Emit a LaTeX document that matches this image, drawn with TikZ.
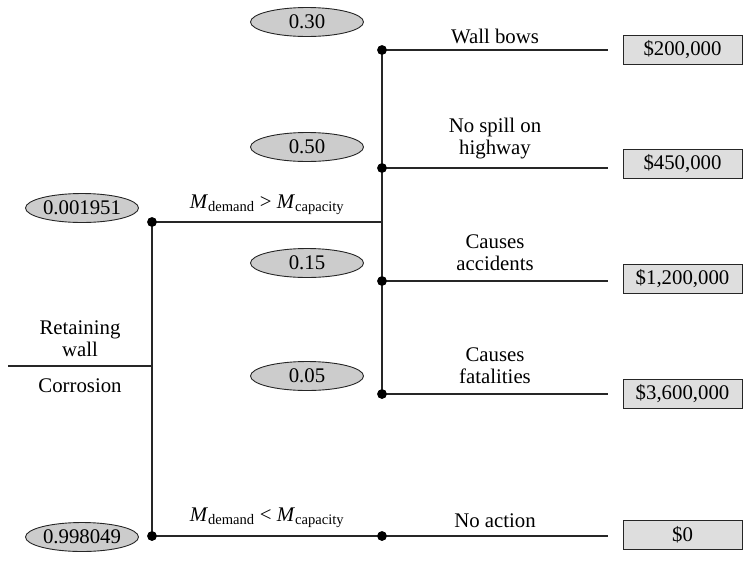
\documentclass[tikz,border=0pt]{standalone}
\usepackage{fontspec}
\setmainfont{Liberation Serif}
\usetikzlibrary{shapes.geometric}
\begin{document}
\begin{tikzpicture}[x=1pt,y=-1pt,
  font=\fontsize{20.8}{22}\selectfont,
  ln/.style={line width=1.1pt, draw=black!85},
  prob/.style={ellipse, draw=black!85, line width=0.9pt, fill=black!20, minimum width=113pt, minimum height=29pt, inner sep=0pt},
  cost/.style={rectangle, draw=black!85, line width=0.9pt, fill=black!13, minimum width=119pt, minimum height=29pt, inner sep=0pt},
  dotn/.style={circle, fill=black, inner sep=0pt, minimum size=9.5pt},
  lbl/.style={align=center, inner sep=0pt}]
\useasboundingbox (0,0) rectangle (746,560);
% decision/chance points
\node[dotn] (d1) at (152,222) {};
\node[dotn] (d2) at (152,536) {};
\coordinate (j) at (382,222);
\coordinate (s0) at (8,366);
\coordinate (s1) at (152,366);
\node[dotn] (c1) at (382,50) {};
\node[dotn] (c2) at (382,168) {};
\node[dotn] (c3) at (382,281) {};
\node[dotn] (c4) at (382,394) {};
\node[dotn] (c5) at (382,536) {};
\coordinate (e1) at (608,50);
\coordinate (e2) at (608,168);
\coordinate (e3) at (608,281);
\coordinate (e4) at (608,394);
\coordinate (e5) at (608,536);
% lines
\draw[ln] (s0) -- (s1);
\draw[ln] (d1.center) -- (d2.center);
\draw[ln] (d1.center) -- (j);
\draw[ln] (d2.center) -- (c5.center);
\draw[ln] (c1.center) -- (c4.center);
\draw[ln] (c1.center) -- (e1);
\draw[ln] (c2.center) -- (e2);
\draw[ln] (c3.center) -- (e3);
\draw[ln] (c4.center) -- (e4);
\draw[ln] (c5.center) -- (e5);
% redraw dots on top
\foreach \n in {d1,d2,c1,c2,c3,c4,c5} \fill (\n) circle (4.75pt);
% probabilities
\node[prob] (p0) at (82,208) {0.001951};
\node[prob] (p1) at (82,537) {0.998049};
\node[prob] (q1) at (307,22) {0.30};
\node[prob] (q2) at (307,147) {0.50};
\node[prob] (q3) at (307,263) {0.15};
\node[prob] (q4) at (307,376) {0.05};
% costs
\node[cost] (k1) at (682.5,50) {\$200,000};
\node[cost] (k2) at (682.5,164) {\$450,000};
\node[cost] (k3) at (682.5,279) {\$1,200,000};
\node[cost] (k4) at (682.5,394) {\$3,600,000};
\node[cost] (k5) at (682.5,535) {\$0};
% labels
\node[lbl] (l0) at (80,339) {Retaining\\wall};
\node[lbl] (l1) at (80,386) {Corrosion};
\node[lbl] (m1) at (267,205) {\textit{M}\textsubscript{demand} > \textit{M}\textsubscript{capacity}};
\node[lbl] (m2) at (267,518) {\textit{M}\textsubscript{demand} < \textit{M}\textsubscript{capacity}};
\node[lbl] (t1) at (495,36) {Wall bows};
\node[lbl] (t2) at (495,139) {No spill on\\highway};
\node[lbl] (t3) at (495,253) {Causes\\accidents};
\node[lbl] (t4) at (495,366) {Causes\\fatalities};
\node[lbl] (t5) at (495,521) {No action};
\end{tikzpicture}
\end{document}
